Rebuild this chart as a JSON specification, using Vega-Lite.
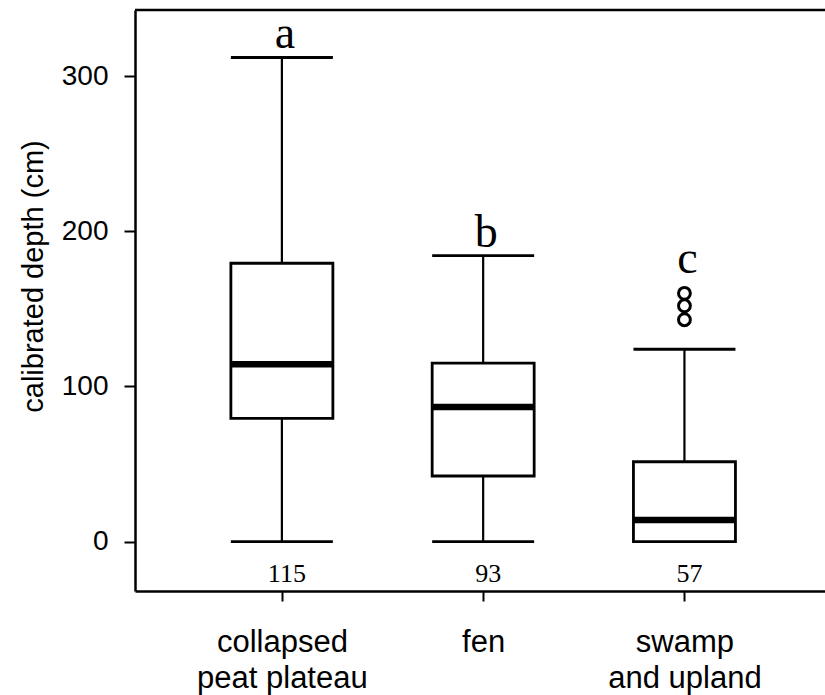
{
  "$schema": "https://vega.github.io/schema/vega-lite/v6.json",
  "width": 690,
  "height": 581,
  "autosize": {"type": "none"},
  "padding": {"left": 135, "top": 10, "right": 0, "bottom": 104},
  "background": "white",
  "config": {
    "view": {"stroke": null},
    "axis": {"grid": false, "domainColor": "black", "tickColor": "black", "labelColor": "black", "titleColor": "black", "labelFont": "Liberation Sans", "titleFont": "Liberation Sans"}
  },
  "datasets": {
    "boxes": [
      {"habitat": "collapsed peat plateau", "lower": 0, "q1": 79.5, "median": 114.3, "q3": 179.4, "upper": 312, "n": 115, "letter": "a", "letter_at": 318},
      {"habitat": "fen", "lower": 0, "q1": 42.3, "median": 86.8, "q3": 115, "upper": 184.3, "n": 93, "letter": "b", "letter_at": 190},
      {"habitat": "swamp and upland", "lower": 0, "q1": 0, "median": 14, "q3": 51.5, "upper": 124, "n": 57, "letter": "c", "letter_at": 173}
    ],
    "outliers": [
      {"habitat": "swamp and upland", "depth": 143},
      {"habitat": "swamp and upland", "depth": 152},
      {"habitat": "swamp and upland", "depth": 160}
    ]
  },
  "layer": [
    {
      "data": {"values": [{"edge": "top"}]},
      "mark": {"type": "rule", "color": "black", "strokeWidth": 2.5},
      "encoding": {"y": {"datum": 342.6, "type": "quantitative", "scale": {"domain": [-31.8, 342.6], "nice": false, "zero": false}}}
    },
    {
      "data": {"name": "boxes"},
      "mark": {"type": "rule", "color": "black", "strokeWidth": 2.2},
      "encoding": {
        "x": {"field": "habitat", "type": "nominal", "scale": {"type": "point", "padding": 0.714, "align": 0.511},
          "axis": {"title": null, "labelAngle": 0, "labelFontSize": 31, "labelLineHeight": 36, "labelBaseline": "top", "labelPadding": 26, "tickSize": 10, "tickWidth": 2, "domainWidth": 2.5, "labelOverlap": false, "labelLimit": 400,
            "labelExpr": "datum.label == 'collapsed peat plateau' ? ['collapsed', 'peat plateau'] : datum.label == 'swamp and upland' ? ['swamp', 'and upland'] : datum.label"}},
        "y": {"field": "lower", "type": "quantitative", "scale": {"domain": [-31.8, 342.6], "nice": false, "zero": false},
          "axis": {"title": "calibrated depth (cm)", "values": [0, 100, 200, 300], "labelFontSize": 28, "labelPadding": 16, "tickSize": 11, "tickWidth": 2, "domainWidth": 2.5, "titleFontSize": 29, "titleFontWeight": "normal", "titlePadding": 13, "titleY": 266}},
        "y2": {"field": "q1"}
      }
    },
    {
      "data": {"name": "boxes"},
      "mark": {"type": "rule", "color": "black", "strokeWidth": 2.2},
      "encoding": {
        "x": {"field": "habitat", "type": "nominal"},
        "y": {"field": "q3", "type": "quantitative"},
        "y2": {"field": "upper"}
      }
    },
    {
      "data": {"name": "boxes"},
      "mark": {"type": "tick", "color": "black", "thickness": 2.8, "size": 102, "opacity": 1},
      "encoding": {
        "x": {"field": "habitat", "type": "nominal"},
        "y": {"field": "lower", "type": "quantitative"}
      }
    },
    {
      "data": {"name": "boxes"},
      "mark": {"type": "tick", "color": "black", "thickness": 2.8, "size": 102, "opacity": 1},
      "encoding": {
        "x": {"field": "habitat", "type": "nominal"},
        "y": {"field": "upper", "type": "quantitative"}
      }
    },
    {
      "data": {"name": "boxes"},
      "mark": {"type": "bar", "fill": "white", "stroke": "black", "strokeWidth": 2.8, "size": 102},
      "encoding": {
        "x": {"field": "habitat", "type": "nominal"},
        "y": {"field": "q1", "type": "quantitative"},
        "y2": {"field": "q3"}
      }
    },
    {
      "data": {"name": "boxes"},
      "mark": {"type": "tick", "color": "black", "thickness": 6.5, "size": 102, "opacity": 1},
      "encoding": {
        "x": {"field": "habitat", "type": "nominal"},
        "y": {"field": "median", "type": "quantitative"}
      }
    },
    {
      "data": {"name": "outliers"},
      "mark": {"type": "point", "shape": "circle", "filled": false, "color": "black", "strokeWidth": 3, "size": 140, "opacity": 1},
      "encoding": {
        "x": {"field": "habitat", "type": "nominal"},
        "y": {"field": "depth", "type": "quantitative"}
      }
    },
    {
      "data": {"name": "boxes"},
      "mark": {"type": "text", "font": "Liberation Serif", "fontSize": 46, "color": "black", "baseline": "alphabetic", "align": "center", "dx": 3},
      "encoding": {
        "x": {"field": "habitat", "type": "nominal"},
        "y": {"field": "letter_at", "type": "quantitative"},
        "text": {"field": "letter"}
      }
    },
    {
      "data": {"name": "boxes"},
      "mark": {"type": "text", "font": "Liberation Serif", "fontSize": 26, "color": "black", "baseline": "alphabetic", "align": "center", "dx": 5},
      "encoding": {
        "x": {"field": "habitat", "type": "nominal"},
        "y": {"datum": -26, "type": "quantitative"},
        "text": {"field": "n"}
      }
    }
  ]
}
